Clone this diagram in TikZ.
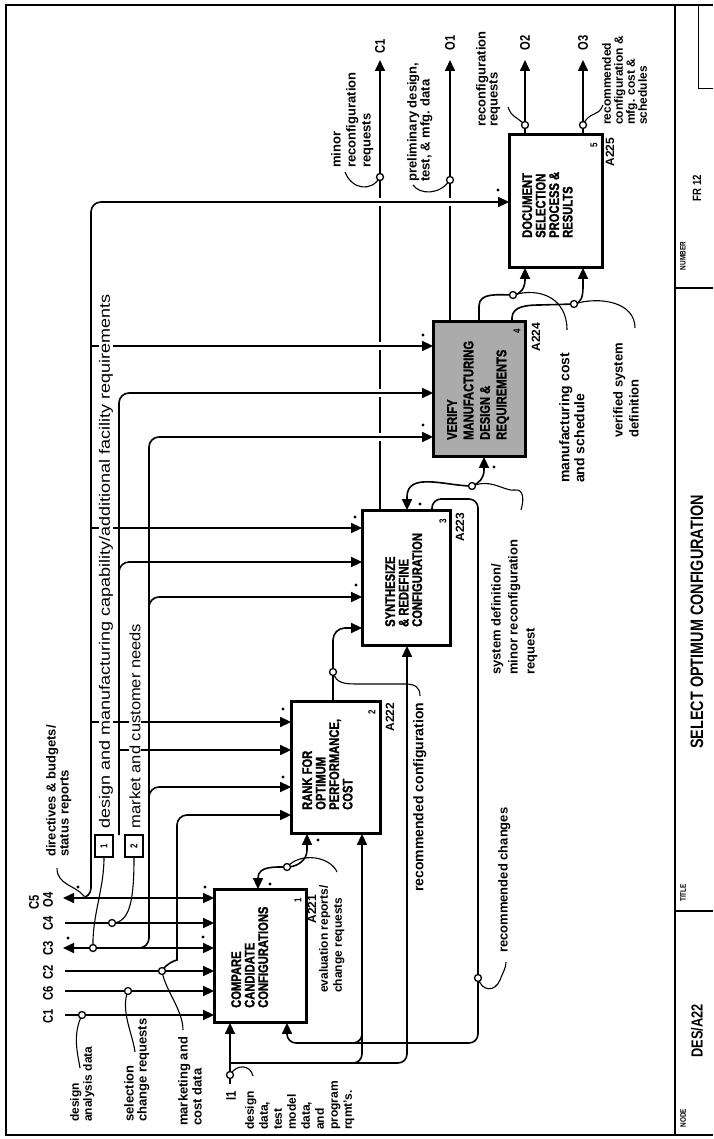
\documentclass[tikz,border=0pt]{standalone}
\usepackage{fontspec}
\setmainfont{Liberation Sans}
\newfontfamily\cf[FakeStretch=0.8]{Liberation Sans}
\newfontfamily\cfb[FakeStretch=0.8,BoldFeatures={FakeBold=1.3}]{Liberation Sans}
\newfontfamily\wf[FakeStretch=1.2]{Liberation Sans}
\newfontfamily\wfb[FakeStretch=1.1]{Liberation Sans}
\usetikzlibrary{arrows.meta}
\tikzset{
  Tri/.tip={Triangle[length=11pt,width=10pt]},
  ln/.style={line width=1.6pt},
  arr/.style={line width=1.6pt,-Tri},
  bar/.style={line width=1.6pt,Tri-Tri},
  sq/.style={line width=1.1pt},
  jc/.style={circle,draw,line width=1.3pt,fill=white,inner sep=0pt,minimum size=7pt},
  box/.style={draw,line width=1.8pt,fill=white,inner sep=0pt},
  bt/.style={rotate=90,anchor=north west,align=left,inner sep=0pt,font=\cfb\bfseries\fontsize{14}{13.5}\selectfont},
  lb/.style 2 args={rotate=90,anchor=north west,align=left,inner sep=0pt,font=\bfseries\fontsize{#1}{#2}\selectfont},
  tb/.style={rotate=90,inner sep=0pt,font=\cf\bfseries\fontsize{#1}{#1}\selectfont},
  tb/.default=12,
  idn/.style={rotate=90,inner sep=0pt,font=\bfseries\fontsize{12}{12}\selectfont},
  strip/.style={rotate=90,anchor=west,inner sep=0.5pt,fill=white},
}
\begin{document}
\begin{tikzpicture}[x=1pt,y=-1pt]
\useasboundingbox (0,0) rectangle (713,1139);
% frame and title block
\draw[line width=1.8pt] (713,5) -- (6,5) -- (6,1135) -- (713,1135);
\draw[line width=1.8pt] (675,5) -- (675,1135);
\draw[line width=1.3pt] (675,288) -- (713,288);
\draw[line width=1.3pt] (675,911) -- (713,911);
\draw[line width=0.8pt] (698,5) -- (698,88) -- (713,88);
\node[tb=8] (tnum) at (683,256) {NUMBER};
\node[tb=12] (tfr) at (697,188) {FR 12};
\node[tb=8] (ttit) at (683,893) {TITLE};
\node[tb=18] (ttitle) at (697,622) {SELECT OPTIMUM CONFIGURATION};
\node[tb=8] (tnode) at (683,1118) {NODE};
\node[tb=16] (tdes) at (697,1031) {DES/A22};

% activity boxes
\node[box,minimum width=91pt,minimum height=132pt] (B1) at (260.5,956) {};
\node[box,minimum width=88pt,minimum height=131pt] (B2) at (336,767.5) {};
\node[box,minimum width=87pt,minimum height=134pt] (B3) at (406.5,578) {};
\node[box,fill=black!33,minimum width=91pt,minimum height=134pt] (B4) at (479.5,389) {};
\node[box,minimum width=92pt,minimum height=132pt] (B5) at (556,201) {};

% junction points
\coordinate (J1) at (82,1015);  \coordinate (J6) at (128,991);
\coordinate (J2) at (162,971);  \coordinate (J3) at (93,948);
\coordinate (J4) at (112,923);  \coordinate (JI) at (230,1075);
\coordinate (JE) at (287,867);  \coordinate (JR) at (333,672);
\coordinate (JS) at (472,486);  \coordinate (JC) at (478,978);
\coordinate (JM) at (513,295);  \coordinate (JV) at (574,304);
\coordinate (JC1) at (380,177); \coordinate (JO1) at (450,180);
\coordinate (JO2) at (525,125); \coordinate (JO3) at (583,125);

% outputs to the top boundary
\coordinate (oC1) at (380,60); \coordinate (oO1) at (450,60);
\coordinate (oO2) at (525,60); \coordinate (oO3) at (583,60);
\draw[arr] (B3.north -| oC1) -- (oC1);
\draw[arr] (B4.north -| oO1) -- (oO1);
\draw[arr] (B5.north -| oO2) -- (oO2);
\draw[arr] (B5.north -| oO3) -- (oO3);
\foreach \yy in {202,346,393,437}{\draw[white,line width=3pt] (380,\yy-4) -- (380,\yy+4);}
\draw[white,line width=3pt] (450,198) -- (450,206);

% boundary controls
\coordinate (c1) at (65,1015); \coordinate (c6) at (65,991);
\coordinate (c2) at (65,971);  \coordinate (c3) at (63,948);
\coordinate (c4) at (65,923);  \coordinate (c5) at (63,898);
\draw[arr] (c1) -- (B1.west |- c1);
\draw[arr] (c6) -- (B1.west |- c6);
\draw[arr] (c2) -- (B1.west |- c2);
\draw[arr] (c4) -- (B1.west |- c4);
\draw[bar] (c3) -- (B1.west |- c3);
\draw[bar] (c5) -- (B1.west |- c5);

% bus 1
\draw[arr,rounded corners=10pt] (80,898) -| (91,202) -- (B5.west |- 0,202);
\draw[arr] (91,346) -- (B4.west |- 0,346);
\draw[arr] (91,528) -- (B3.west |- 0,528);
\draw[arr] (91,722) -- (B2.west |- 0,722);
% bus 2
\draw[arr,rounded corners=10pt] (119,835) -- (119,393) -- (B4.west |- 0,393);
\draw[arr,rounded corners=10pt] (119,600) |- (B3.west |- 0,562);
\draw[arr] (119,750) -- (B2.west |- 0,750);
% bus 3
\draw[arr,rounded corners=10pt] (84,948) -| (149,437) -- (B4.west |- 0,437);
\draw[arr,rounded corners=10pt] (149,640) |- (B3.west |- 0,597);
\draw[arr,rounded corners=10pt] (149,830) |- (B2.west |- 0,787);
% marketing branch
\draw[arr,rounded corners=10pt] (J2) to[out=60,in=-90] (177,950) -- (177,815) -- (B2.west |- 0,815);

% box 2 output
\draw[arr,rounded corners=12pt] (B2.north -| JR) -- (333,628) -- (B3.west |- 0,628);
\draw[sq] (JR) .. controls (336,684) and (345,684) .. (360,684) -- (405,684) .. controls (416,684) and (420,688) .. (420,696);
% box1 <-> box2
\draw[bar] (B1.north -| 258,0) -- (258,878) to[out=90,in=180] (JE) to[out=0,in=-90] (307,850) -- (B2.south -| 307,0);
\draw[sq] (JE) .. controls (300,852) and (330,856) .. (337,872);
% box3 <-> box4
\draw[bar] (B3.north -| 407,0) -- (407,497) to[out=90,in=180] (JS) to[out=20,in=-90] (484,470) -- (B4.south -| 484,0);
\draw[sq] (JS) .. controls (492,478) and (505,492) .. (515,490) .. controls (524,489) and (524,500) .. (521,510);
% recommended changes feedback
\draw[arr,rounded corners=9pt] (B3.north -| 432,0) -- (432,499) -- (478,499) -- (478,1043) -- (287,1043) -- (B1.south -| 287,0);
\draw[sq] (JC) .. controls (482,992) and (495,992) .. (500,980) .. controls (503,972) and (506,968) .. (506,962);
% input I1
\coordinate (i1) at (230,1084);
\draw[arr] (i1) -- (B1.south -| i1);
\draw[arr,rounded corners=9pt] (230,1063) -- (407,1063) -- (B3.south -| 407,0);
\draw[arr,rounded corners=9pt] (300,1063) -| (B2.south -| 362,0);
\draw[ln,rounded corners=9pt] (330,1043) -| (362,1000);
\draw[sq] (JI) .. controls (236,1064) and (250,1064) .. (253,1076);
% box 4 -> box 5
\draw[arr] (B4.north -| 479,0) -- (479,306) to[out=90,in=180] (JM) to[out=0,in=-90] (525,280) -- (B5.south -| 525,0);
\draw[arr] (B4.north -| 512,0) -- (512,318) to[out=90,in=180] (540,305) -- (JV) to[out=0,in=-90] (583,288) -- (B5.south -| 583,0);
\draw[sq] (JM) .. controls (540,287) and (567,298) .. (567,330);
\draw[sq] (JV) .. controls (600,296) and (635,302) .. (635,328);
% top squiggles
\draw[sq] (JC1) .. controls (372,192) and (352,190) .. (345,172);
\draw[sq] (JO1) .. controls (440,195) and (420,195) .. (413,185);
\draw[sq] (JO2) .. controls (515,115) and (512,118) .. (508,107);
\draw[sq] (JO3) .. controls (590,110) and (598,118) .. (603,105);
% left squiggles
\draw[sq] (J1) .. controls (72,1035) and (78,1055) .. (80,1068);
\draw[sq] (J6) .. controls (120,1010) and (133,1035) .. (135,1052);
\draw[sq] (J2) .. controls (165,990) and (183,1010) .. (183,1030);
\draw[sq] (57,868) .. controls (57,885) and (75,885) .. (84,896);

% tunnel squares
\node[draw,line width=1.2pt,fill=white,minimum width=18pt,minimum height=22pt,inner sep=0pt] (S1) at (104,846) {};
\node[tb=10] (S1t) at (S1) {1};
\node[draw,line width=1.2pt,fill=white,minimum width=18pt,minimum height=22pt,inner sep=0pt] (S2) at (134,846) {};
\node[tb=10] (S2t) at (S2) {2};
\draw[sq] (S1.south) .. controls (104,890) and (92,915) .. (J3);
\draw[sq] (S2.south) .. controls (134,900) and (130,923) .. (J4);

% strip labels
\node[strip,font=\wf\fontsize{15}{15}\selectfont] (Ls1) at (106,829) {design and manufacturing capability/additional facility requirements};
\node[strip,font=\wfb\fontsize{15}{15}\selectfont] (Ls2) at (135,829) {market and customer needs};

% junction circles
\foreach \j in {J1,J6,J2,J3,J4,JI,JE,JR,JS,JC,JM,JV,JC1,JO1,JO2,JO3}{\node[jc] (c\j) at (\j) {};}

% redraw box borders
\foreach \b in {B1,B2,B3,B4,B5}{\draw[line width=1.8pt] (\b.south west) rectangle (\b.north east);}

% box texts
\node[bt] (T1) at (231,1008) {COMPARE\\CANDIDATE\\CONFIGURATIONS};
\node[bt] (T2) at (302,810) {RANK FOR\\OPTIMUM\\PERFORMANCE,\\COST};
\node[bt] (T3) at (385,627) {SYNTHESIZE\\\& REDEFINE\\CONFIGURATION};
\node[bt,font=\cfb\bfseries\fontsize{14}{16.5}\selectfont] (T4) at (447,440) {VERIFY\\MANUFACTURING\\DESIGN \&\\REQUIREMENTS};
\node[bt] (T5) at (522,238) {DOCUMENT\\SELECTION\\PROCESS \&\\RESULTS};
% box numbers and node ids
\node[tb=10] (n1) at (298,900) {1};
\node[tb=10] (n2) at (372,712) {2};
\node[tb=10] (n3) at (443,521) {3};
\node[tb=10] (n4) at (517,331) {4};
\node[tb=10] (n5) at (594,145) {5};
\node[idn] (a1) at (312,909) {A221};
\node[idn] (a2) at (390,717) {A222};
\node[idn] (a3) at (460,527) {A223};
\node[idn] (a4) at (536,337) {A224};
\node[idn] (a5) at (610,152) {A225};

% ICOM codes
\node[tb=14] (kC1) at (48,1016) {C1};
\node[tb=14] (kC6) at (48,993) {C6};
\node[tb=14] (kC2) at (48,972) {C2};
\node[tb=14] (kC3) at (48,948) {C3};
\node[tb=14] (kC4) at (48,923) {C4};
\node[tb=14] (kO4) at (48,900) {O4};
\node[tb=14] (kC5) at (34,902) {C5};
\node[tb=14] (kI1) at (231,1096) {I1};
\node[tb=14] (tC1) at (380,46) {C1};
\node[tb=14] (tO1) at (450,43) {O1};
\node[tb=14] (tO2) at (525,43) {O2};
\node[tb=14] (tO3) at (583,43) {O3};

% labels
\node[lb={12}{13}] (l1) at (70,1122) {design\\analysis data};
\node[lb={13}{13}] (l2) at (124,1122) {selection\\change requests};
\node[lb={13}{14}] (l3) at (178,1126) {marketing and\\cost data};
\node[lb={13}{13}] (l4) at (46,857) {directives \& budgets/\\status reports};
\node[lb={12}{14}] (l5) at (245,1130) {design\\data,\\test\\model\\data,\\and\\program\\rqmt's.};
\node[lb={12}{14}] (l6) at (319,993) {evaluation reports/\\change requests};
\node[lb={14}{14}] (l7) at (413,892) {recommended configuration};
\node[lb={13}{13}] (l8) at (498,953) {recommended changes};
\node[lb={13}{17}] (l9) at (491,675) {system definition/\\minor reconfiguration\\request};
\node[lb={14}{15}] (l10) at (559,483) {manufacturing cost\\and schedule};
\node[lb={13}{16}] (l11) at (613,438) {verified system\\definition};
\node[lb={13}{15}] (l12) at (331,168) {minor\\reconfiguration\\requests};
\node[lb={13}{13}] (l13) at (407,182) {preliminary design,\\test, \& mfg. data};
\node[lb={13}{12}] (l14) at (476,127) {reconfiguration\\requests};
\node[lb={12}{12}] (l15) at (602,125) {recommended\\configuration \&\\mfg. cost \&\\schedules};

% asterisk dots
\foreach \p in {(205,887),(203,937),(78,887),(68,938),(270,884),(318,840),(283,709),(283,777),(355,517),(356,585),(420,504),(423,335),(423,425),(494,467),(498,190)}{\fill \p circle (1.6pt);}
\end{tikzpicture}
\end{document}
